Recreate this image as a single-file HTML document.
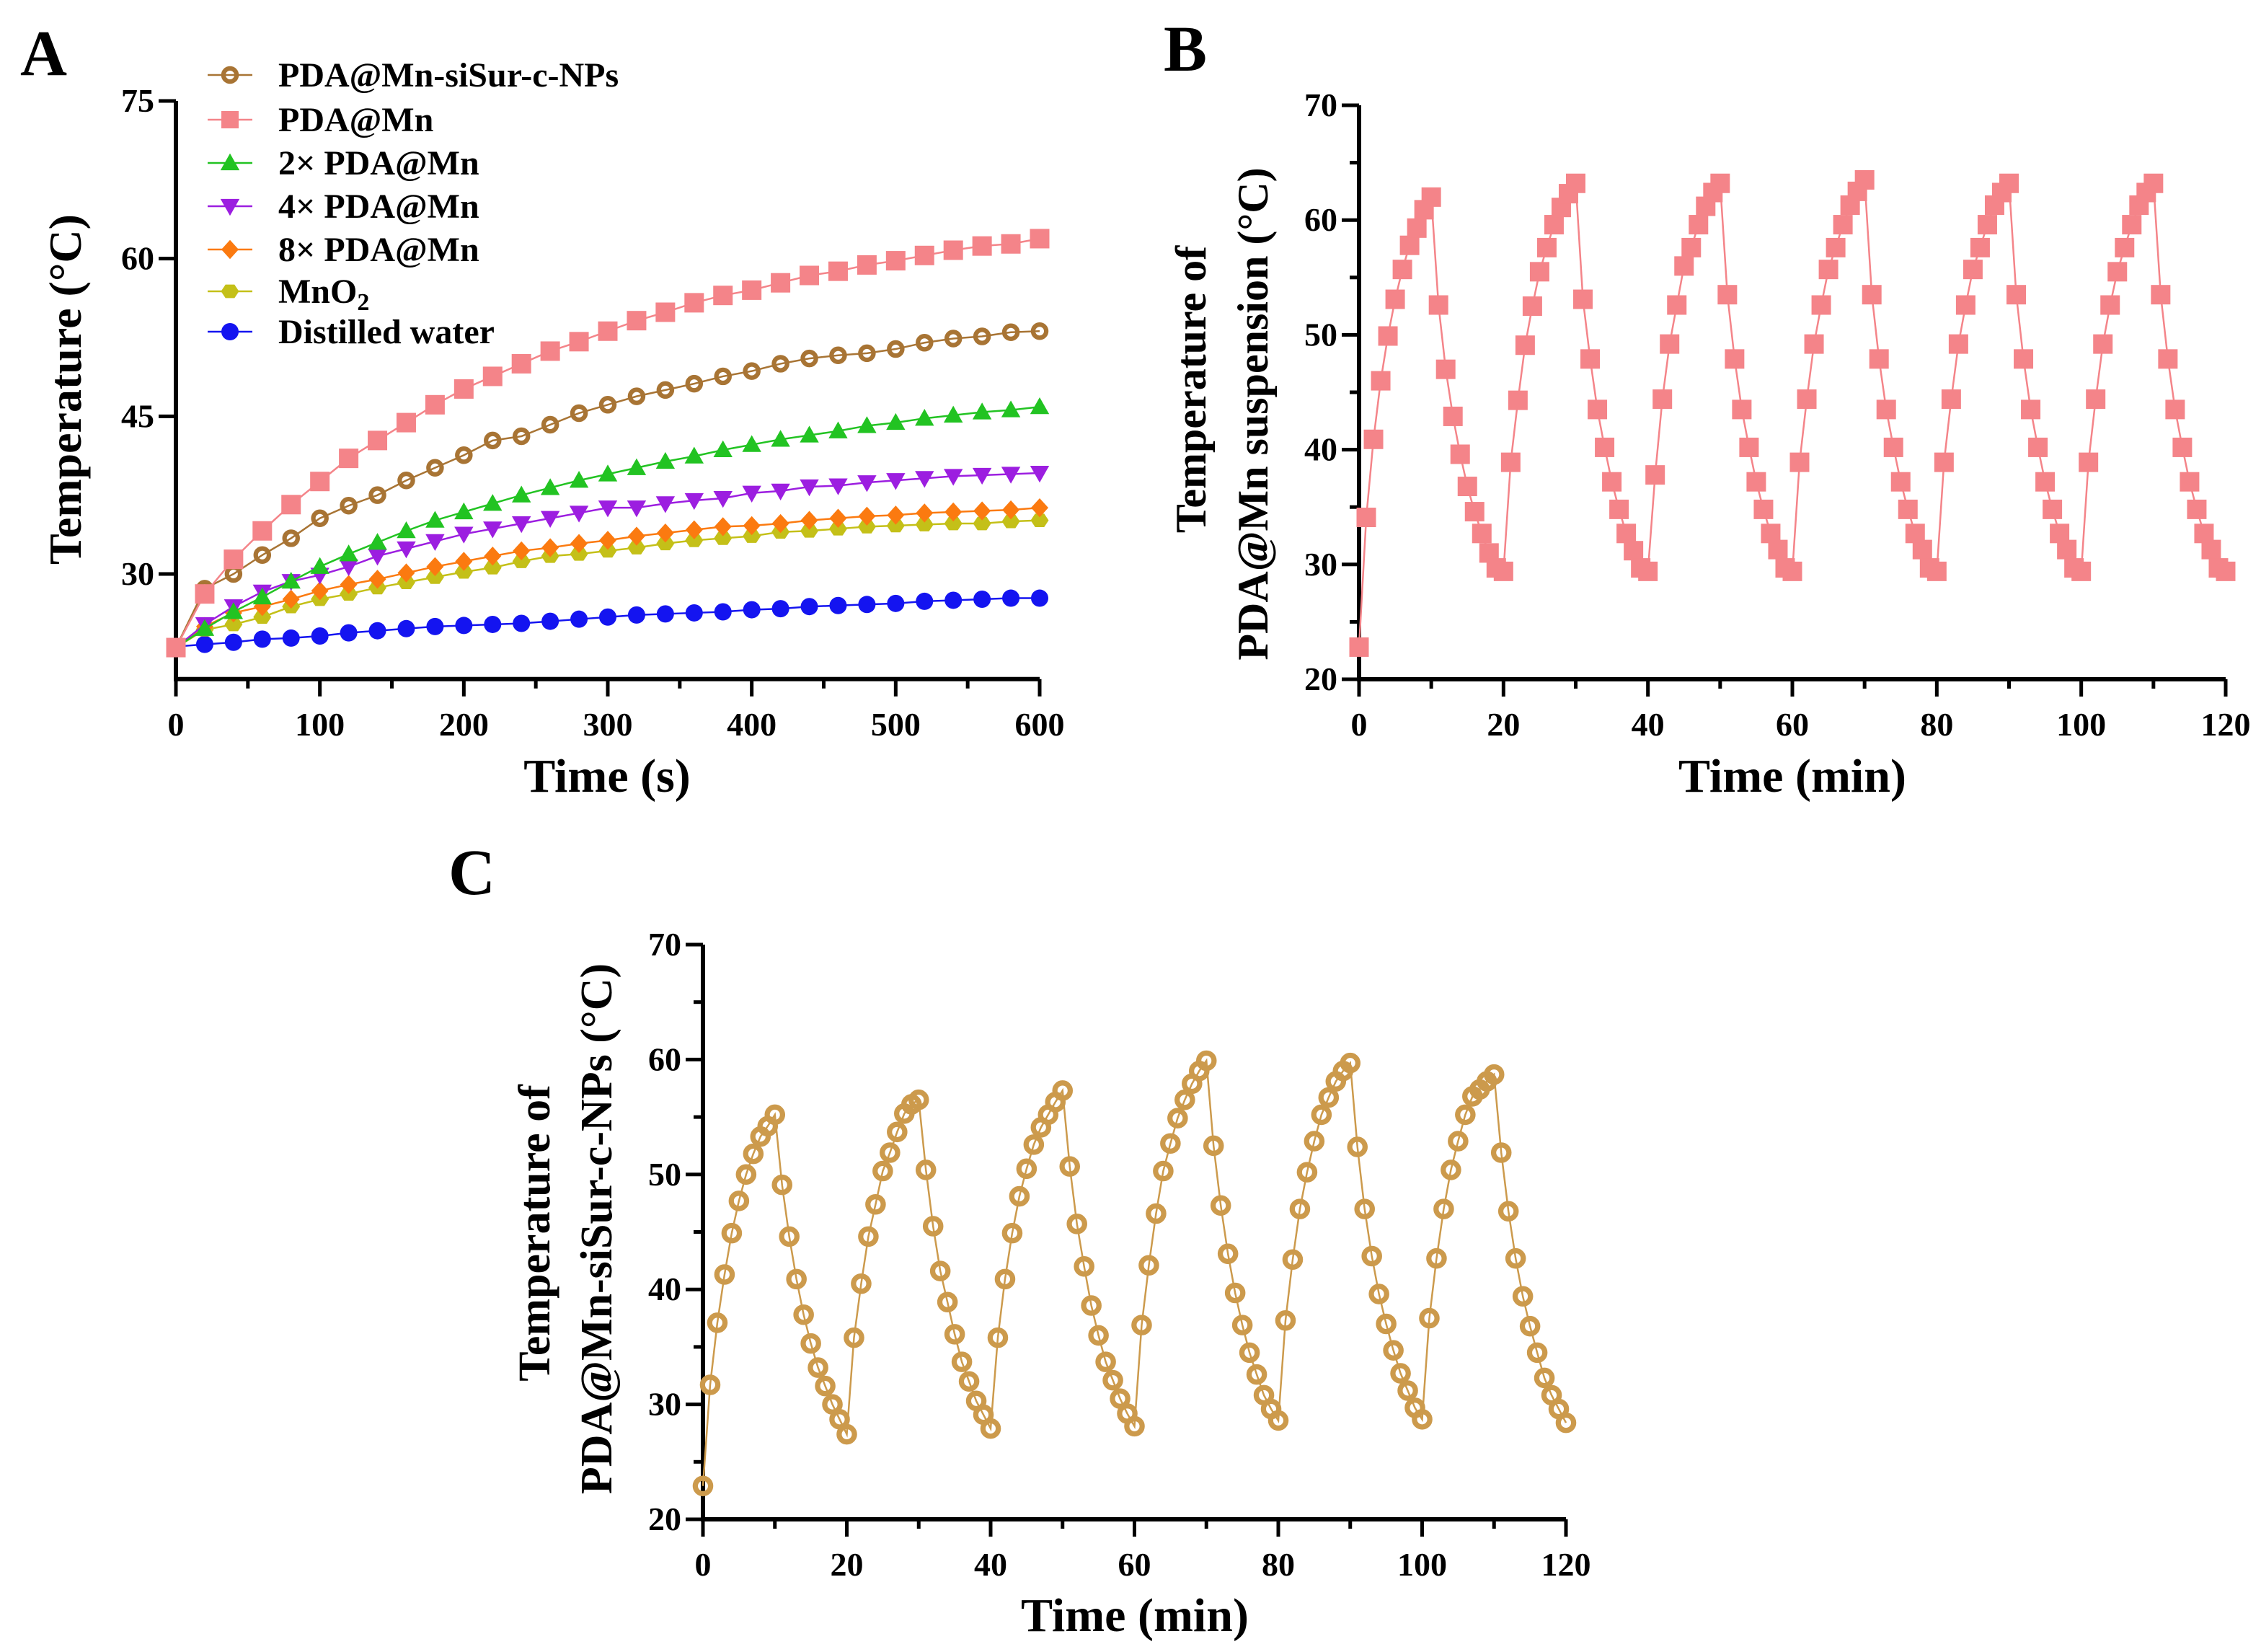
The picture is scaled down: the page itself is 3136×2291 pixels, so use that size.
<!DOCTYPE html>
<html><head><meta charset="utf-8"><style>
html,body{margin:0;padding:0;background:#fff}
svg{display:block}
text{font-family:"Liberation Serif",serif;font-weight:bold;fill:#000}
</style></head><body>
<svg id="s" width="3136" height="2291" viewBox="0 0 3136 2291" xmlns="http://www.w3.org/2000/svg"></svg>
<script>
// ---- Panel A data ----
const timeA=[0,20,40,60,80,100,120,140,160,180,200,220,240,260,280,300,320,340,360,380,400,420,440,460,480,500,520,540,560,580,600];
const pdaMnA=[23,28.1,31.4,34.1,36.6,38.8,41.0,42.7,44.4,46.1,47.6,48.8,50.0,51.2,52.1,53.1,54.1,54.9,55.8,56.5,57.0,57.7,58.4,58.8,59.4,59.8,60.3,60.8,61.2,61.4,61.9];
const npsA=[23,28.6,30.0,31.8,33.4,35.3,36.5,37.5,38.9,40.1,41.3,42.7,43.1,44.2,45.3,46.1,46.9,47.5,48.1,48.8,49.3,50.0,50.5,50.8,51.0,51.4,52.0,52.4,52.6,53.0,53.1];
const x2A=[23,24.8,26.4,27.8,29.3,30.7,31.9,33.0,34.1,35.1,35.9,36.7,37.5,38.2,38.9,39.5,40.1,40.7,41.2,41.8,42.3,42.8,43.2,43.6,44.1,44.4,44.8,45.1,45.4,45.6,45.9];
const x4A=[23,25.2,26.9,28.3,29.3,29.9,30.7,31.7,32.4,33.1,33.8,34.3,34.8,35.3,35.8,36.3,36.3,36.7,37.0,37.2,37.7,37.9,38.3,38.4,38.7,38.9,39.1,39.3,39.4,39.5,39.6];
const x8A=[23,25.0,26.3,26.9,27.6,28.4,29.0,29.5,30.1,30.7,31.2,31.7,32.2,32.5,32.9,33.2,33.6,33.9,34.2,34.5,34.6,34.8,35.1,35.3,35.5,35.6,35.8,35.9,36.0,36.1,36.3];
const mno2A=[23,24.7,25.2,25.9,26.9,27.6,28.1,28.7,29.2,29.7,30.2,30.6,31.2,31.7,31.9,32.2,32.5,32.9,33.2,33.4,33.6,34.0,34.1,34.3,34.5,34.6,34.7,34.8,34.8,35.0,35.1];
const waterA=[23.1,23.3,23.5,23.8,23.9,24.1,24.4,24.6,24.8,25.0,25.1,25.2,25.3,25.5,25.7,25.9,26.1,26.2,26.3,26.4,26.6,26.7,26.9,27.0,27.1,27.2,27.4,27.5,27.6,27.7,27.7];
const seriesNamesA=["PDA@Mn-siSur-c-NPs","PDA@Mn","2× PDA@Mn","4× PDA@Mn","8× PDA@Mn","MnO2","Distilled water"];
const yTicksA=[30,45,60,75];
const xTicksA=[0,100,200,300,400,500,600];
// ---- Panel B data ----
const tempB=[22.8,34.1,40.9,46.0,49.9,53.1,55.7,57.8,59.3,60.9,62.0,52.6,47.0,42.9,39.6,36.8,34.6,32.7,31.0,29.7,29.4,
38.9,44.3,49.1,52.5,55.5,57.6,59.6,61.1,62.3,63.2,53.1,47.9,43.5,40.2,37.2,34.8,32.7,31.2,29.7,29.4,
37.8,44.4,49.2,52.6,56.0,57.6,59.6,61.2,62.4,63.2,53.5,47.9,43.5,40.2,37.2,34.8,32.7,31.3,29.7,29.4,
38.9,44.4,49.2,52.6,55.7,57.6,59.6,61.3,62.5,63.5,53.5,47.9,43.5,40.2,37.2,34.8,32.7,31.3,29.7,29.4,
38.9,44.4,49.2,52.6,55.7,57.6,59.6,61.3,62.4,63.2,53.5,47.9,43.5,40.2,37.2,34.8,32.7,31.3,29.7,29.4,
38.9,44.4,49.2,52.6,55.5,57.6,59.6,61.3,62.4,63.2,53.5,47.9,43.5,40.2,37.2,34.8,32.7,31.3,29.7,29.4];
// ---- Panel C data ----
const tempC=[22.9,31.7,37.1,41.3,44.9,47.7,50.0,51.8,53.3,54.2,55.2,49.1,44.6,40.9,37.8,35.3,33.2,31.6,30.0,28.7,27.4,
35.8,40.5,44.6,47.4,50.3,51.9,53.7,55.3,56.1,56.5,50.4,45.5,41.6,38.9,36.1,33.7,32.0,30.3,29.1,27.9,
35.8,40.9,44.9,48.1,50.5,52.6,54.1,55.2,56.3,57.3,50.7,45.7,42.0,38.6,36.0,33.7,32.1,30.5,29.2,28.1,
36.9,42.1,46.6,50.3,52.7,54.9,56.5,57.9,59.0,59.9,52.5,47.3,43.1,39.7,36.9,34.5,32.6,30.8,29.6,28.6,
37.3,42.6,47.0,50.2,52.9,55.2,56.7,58.1,59.0,59.7,52.4,47.0,42.9,39.6,37.0,34.7,32.7,31.2,29.7,28.7,
37.5,42.7,47.0,50.4,52.9,55.2,56.8,57.4,58.1,58.7,51.9,46.8,42.7,39.4,36.8,34.5,32.3,30.8,29.6,28.4];
const yTicksBC=[20,30,40,50,60,70];
const xTicksBC=[0,20,40,60,80,100,120];

const NS="http://www.w3.org/2000/svg";
const svg=document.getElementById('s');
function el(tag,attrs,parent,txt){const e=document.createElementNS(NS,tag);for(const k in attrs)e.setAttribute(k,attrs[k]);if(txt!==undefined)e.textContent=txt;(parent||svg).appendChild(e);return e;}
function lin(d0,d1,r0,r1){return v=>r0+(v-d0)/(d1-d0)*(r1-r0);}

function marker(g,shape,x,y,c,s){
  let m;
  if(shape==='circleO'){m=el('circle',{cx:x,cy:y,r:s*0.38,fill:'none',stroke:c,'stroke-width':s*0.26},g);}
  else if(shape==='square'){m=el('rect',{x:x-s/2,y:y-s/2,width:s,height:s,fill:c},g);}
  else if(shape==='tri'){m=el('polygon',{points:`${x},${y-s*0.55} ${x-s*0.55},${y+s*0.42} ${x+s*0.55},${y+s*0.42}`,fill:c},g);}
  else if(shape==='tridown'){m=el('polygon',{points:`${x},${y+s*0.55} ${x-s*0.55},${y-s*0.42} ${x+s*0.55},${y-s*0.42}`,fill:c},g);}
  else if(shape==='diamond'){m=el('polygon',{points:`${x},${y-s*0.55} ${x+s*0.5},${y} ${x},${y+s*0.55} ${x-s*0.5},${y}`,fill:c},g);}
  else if(shape==='hex'){let p=[];for(let i=0;i<6;i++){const a=Math.PI/3*i;p.push((x+s*0.52*Math.cos(a))+','+(y+s*0.45*Math.sin(a)));}m=el('polygon',{points:p.join(' '),fill:c},g);}
  else {m=el('circle',{cx:x,cy:y,r:s*0.5,fill:c},g);}
  
  
  return m;
}

function axes(g,X,Y,x0,x1,y0,y1,xt,yt,xminor,yminor,tickFont){
  const ax=el('g',{},g);
  
  
  el('line',{x1:X(x0),y1:Y(y0),x2:X(x1),y2:Y(y0),stroke:'#000','stroke-width':6},ax);
  el('line',{x1:X(x0),y1:Y(y0)+3,x2:X(x0),y2:Y(y1),stroke:'#000','stroke-width':6},ax);
  xt.forEach(v=>{el('line',{x1:X(v),y1:Y(y0),x2:X(v),y2:Y(y0)+24,stroke:'#000','stroke-width':5},ax);
    const t=el('text',{x:X(v),y:Y(y0)+78,'text-anchor':'middle','font-size':tickFont},ax,v);});
  for(let v=x0;v<=x1+1e-9;v+=xminor){if(!xt.includes(v))el('line',{x1:X(v),y1:Y(y0),x2:X(v),y2:Y(y0)+13,stroke:'#000','stroke-width':5},ax);}
  yt.forEach(v=>{el('line',{x1:X(x0),y1:Y(v),x2:X(x0)-24,y2:Y(v),stroke:'#000','stroke-width':5},ax);
    const t=el('text',{x:X(x0)-30,y:Y(v)+15,'text-anchor':'end','font-size':tickFont},ax,v);});
  if(yminor){for(let v=y0;v<=y1+1e-9;v+=yminor){if(!yt.includes(v))el('line',{x1:X(x0),y1:Y(v),x2:X(x0)-13,y2:Y(v),stroke:'#000','stroke-width':5},ax);}}
}

function series(g,xs,ys,X,Y,c,shape,s,name){
  const sg=el('g',{},g);
  
  
  el('polyline',{points:xs.map((x,i)=>X(x)+','+Y(ys[i])).join(' '),fill:'none',stroke:c,'stroke-width':2.5},sg);
  xs.forEach((x,i)=>marker(sg,shape,X(x),Y(ys[i]),c,s));
}

// ---------- Panel A ----------
const gA=el('g',{});


const XA=lin(0,600,244,1442), YA=lin(30,75,796,140);
axes(gA,XA,YA,0,600,20,75,xTicksA,yTicksA,50,0,46);
const colA=['#a87434','#f48489','#22c322','#9c1ee0','#fb7a10','#c4c018','#1414f0'];
const shpA=['circleO','square','tri','tridown','diamond','hex','dot'];
const dataA=[npsA,pdaMnA,x2A,x4A,x8A,mno2A,waterA];
const order=[6,5,4,3,2,0,1];
order.forEach(i=>series(gA,timeA,dataA[i],XA,YA,colA[i],shpA[i],i===1?27:24,'series-'+(i+1)));
const la=el('text',{x:28,y:104,'font-size':90},gA,'A');
const ya=el('text',{x:0,y:0,'font-size':64,'text-anchor':'middle',transform:'translate(112,540) rotate(-90)'},gA,'Temperature (°C)');
const xa=el('text',{x:842,y:1098,'font-size':66,'text-anchor':'middle'},gA,'Time (s)');
const lg=el('g',{},gA);


const legY=[104,166,226,286,346,404,460];
seriesNamesA.forEach((n,i)=>{
  const e=el('g',{},lg);
  
  
  el('line',{x1:288,y1:legY[i],x2:350,y2:legY[i],stroke:colA[i],'stroke-width':2.5},e);
  marker(e,shpA[i],319,legY[i],colA[i],24);
  const t=el('text',{x:386,y:legY[i]+16,'font-size':48},e);
  if(n==='MnO2'){t.textContent='MnO';el('tspan',{'font-size':34,dy:10},t,'2');}else t.textContent=n;
});

// ---------- Panel B ----------
const gB=el('g',{});


const XB=lin(0,120,1885,3087), YB=lin(20,70,942,146);
axes(gB,XB,YB,0,120,20,70,xTicksBC,yTicksBC,10,5,46);
const minutesB=tempB.map((_,i)=>i);
series(gB,minutesB,tempB,XB,YB,'#f48489','square',27,'series-pda-mn');
const lb=el('text',{x:1614,y:98,'font-size':90},gB,'B');
const yb=el('text',{x:0,y:0,'font-size':60,'text-anchor':'middle',transform:'translate(1672,540) rotate(-90)'},gB,'Temperature of');
const yb2=el('text',{x:0,y:0,'font-size':60,'text-anchor':'middle',transform:'translate(1758,574) rotate(-90)'},gB,'PDA@Mn suspension (°C)');
const xb=el('text',{x:2486,y:1098,'font-size':66,'text-anchor':'middle'},gB,'Time (min)');

// ---------- Panel C ----------
const gC=el('g',{});


const XC=lin(0,120,975,2172), YC=lin(20,70,2107,1310);
axes(gC,XC,YC,0,120,20,70,xTicksBC,yTicksBC,10,5,46);
const minutesC=tempC.map((_,i)=>i);
series(gC,minutesC,tempC,XC,YC,'#cc9a4c','circleO',28,'series-pda-mn-sisur');
const lc=el('text',{x:622,y:1240,'font-size':90},gC,'C');
const yc=el('text',{x:0,y:0,'font-size':62,'text-anchor':'middle',transform:'translate(762,1710) rotate(-90)'},gC,'Temperature of');
const yc2=el('text',{x:0,y:0,'font-size':62,'text-anchor':'middle',transform:'translate(848,1704) rotate(-90)'},gC,'PDA@Mn-siSur-c-NPs (°C)');
const xc=el('text',{x:1574,y:2262,'font-size':66,'text-anchor':'middle'},gC,'Time (min)');
</script>
</body></html>
